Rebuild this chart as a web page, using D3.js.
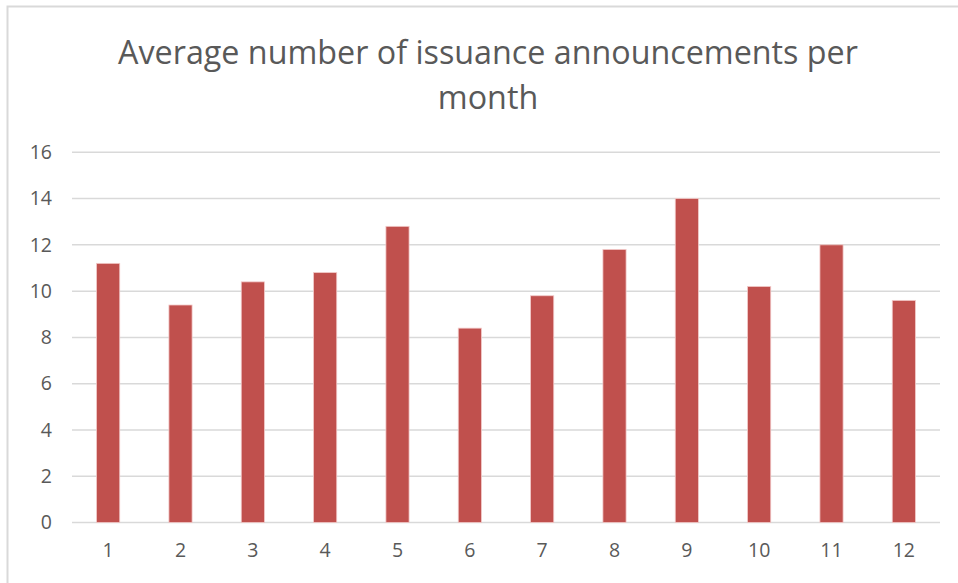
<!DOCTYPE html>
<html>
<head>
<meta charset="utf-8">
<script src="https://cdn.jsdelivr.net/npm/d3@7"></script>
<style>
  html, body { margin: 0; padding: 0; background: #fff; }
  svg { display: block; }
  text { font-family: "Open Sans", "Liberation Sans", sans-serif; fill: #595959; }
</style>
</head>
<body>
<svg id="chart" width="958" height="583"></svg>
<script>
const months = ["1","2","3","4","5","6","7","8","9","10","11","12"];
const avgAnnouncements = [11.2, 9.4, 10.4, 10.8, 12.8, 8.4, 9.8, 11.8, 14.0, 10.2, 12.0, 9.6];
const yTicks = [0, 2, 4, 6, 8, 10, 12, 14, 16];
const titleLines = ["Average number of issuance announcements per", "month"];

const svg = d3.select("#chart");
const W = 958, H = 583;

// chart frame
svg.append("rect")
  .attr("x", 7.5).attr("y", 6.5)
  .attr("width", W + 10).attr("height", H + 10)
  .attr("fill", "none").attr("stroke", "#d9d9d9").attr("stroke-width", 2);

const plotLeft = 72, plotRight = 940, plotTop = 152.3, plotBottom = 522.5;

const x = d3.scaleBand().domain(months).range([plotLeft, plotRight])
  .paddingInner(0.68).paddingOuter(0.34);
const y = d3.scaleLinear().domain([0, 16]).range([plotBottom, plotTop]);

// gridlines
svg.append("g").selectAll("line").data(yTicks).join("line")
  .attr("x1", plotLeft).attr("x2", plotRight)
  .attr("y1", d => y(d)).attr("y2", d => y(d))
  .attr("stroke", "#d9d9d9").attr("stroke-width", 1.5);

// y axis labels
const yAxis = d3.axisLeft(y).tickValues(yTicks).tickSize(0).tickPadding(0);
const gy = svg.append("g").attr("transform", `translate(52,0)`).call(yAxis);
gy.select(".domain").remove();
gy.selectAll("text").style("font-size", "19.5px").attr("fill", "#595959")
  .style("font-family", "'Open Sans', sans-serif");

// bars
svg.append("g").selectAll("rect").data(months).join("rect")
  .attr("x", d => x(d))
  .attr("width", x.bandwidth())
  .attr("y", (d, i) => y(avgAnnouncements[i]))
  .attr("height", (d, i) => y(0) - y(avgAnnouncements[i]))
  .attr("fill", "#C0504D")
  .attr("stroke", "#f2c9c8").attr("stroke-width", 0.8);

// x axis labels
const xAxis = d3.axisBottom(x).tickSize(0).tickPadding(0);
const gx = svg.append("g").attr("transform", `translate(0,543)`).call(xAxis);
gx.select(".domain").remove();
gx.selectAll("text").style("font-size", "19.5px").attr("fill", "#595959")
  .attr("dy", "0.72em")
  .style("font-family", "'Open Sans', sans-serif");

// title
const t = svg.append("text").attr("text-anchor", "middle")
  .style("font-size", "28px").attr("fill", "#595959");
t.selectAll("tspan").data(titleLines).join("tspan")
  .attr("x", 488).attr("y", (d, i) => 64 + i * 45).text(d => d);
// fit first line to the reference width
const w0 = t.select("tspan").node().getComputedTextLength();
const fs = 28 * 740 / w0;
t.style("font-size", fs + "px");
</script>
</body>
</html>
